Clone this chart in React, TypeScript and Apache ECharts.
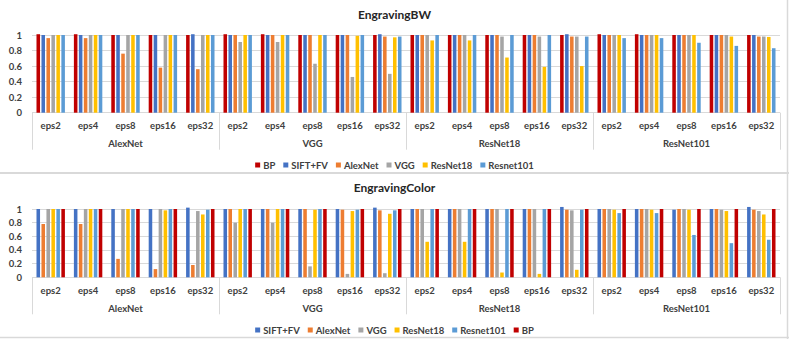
import React, { useEffect, useRef } from "react";
import * as echarts from "echarts";

const epsLabels = ["eps2", "eps4", "eps8", "eps16", "eps32"];
const groups = ["AlexNet", "VGG", "ResNet18", "ResNet101"];
const yTicks = [0, 0.2, 0.4, 0.6, 0.8, 1];

const seriesNames = ["BP", "SIFT+FV", "AlexNet", "VGG", "ResNet18", "Resnet101"];
const colorOrder = ["SIFT+FV", "AlexNet", "VGG", "ResNet18", "Resnet101", "BP"];

// EngravingBW (order per group: eps2, eps4, eps8, eps16, eps32)
const bwBP = [1.01, 1.01, 1, 1, 1, 1.01, 1.01, 1, 1, 1, 1, 1, 1, 1, 1, 1.01, 1.01, 1, 1, 1];
const bwSIFT = [1, 1, 1, 1, 1.01, 1, 1, 1, 1, 1.01, 1, 1, 1, 1, 1.01, 1, 1, 1, 1, 1];
const bwAlexNet = [0.96, 0.96, 0.76, 0.58, 0.56, 1, 1, 1, 1, 0.98, 1, 1, 1, 1, 0.98, 1, 1, 1, 1, 0.98];
const bwVGG = [1, 1, 1, 1, 1, 0.91, 0.91, 0.63, 0.46, 0.5, 1, 1, 0.98, 0.98, 0.98, 1, 1, 1, 1, 0.98];
const bwResNet18 = [1, 1, 1, 1, 1, 1, 1, 1, 0.99, 0.97, 0.93, 0.93, 0.71, 0.59, 0.6, 1, 1, 1, 0.98, 0.975];
const bwResnet101 = [1, 1, 1, 1, 1, 1, 1, 1, 1, 0.98, 1, 1, 1, 1, 0.98, 0.96, 0.96, 0.9, 0.86, 0.83];

// EngravingColor
const colSIFT = [1, 1, 1, 1, 1.02, 1, 1, 1, 1, 1.02, 1, 1, 1, 1, 1.03, 1, 1, 0.99, 1, 1.03];
const colAlexNet = [0.78, 0.78, 0.27, 0.12, 0.18, 1, 1, 1, 0.99, 0.98, 1, 1, 1, 1, 0.99, 1, 1, 1, 1, 0.99];
const colVGG = [1, 1, 1, 1, 0.97, 0.8, 0.8, 0.16, 0.05, 0.06, 1, 1, 1, 1, 0.98, 1, 1, 1, 0.99, 0.97];
const colResNet18 = [1, 1, 1, 0.98, 0.92, 1, 1, 0.99, 0.97, 0.93, 0.52, 0.52, 0.07, 0.05, 0.11, 0.99, 0.99, 0.99, 0.97, 0.92];
const colResnet101 = [1, 1, 1, 1, 0.99, 1, 1, 1, 0.99, 0.98, 1, 1, 1, 1, 0.99, 0.94, 0.94, 0.62, 0.5, 0.55];
const colBP = [1, 1, 1, 1, 1, 1, 1, 1, 1, 1, 1, 1, 1, 1, 1, 1, 1, 1, 1, 1];

const COLORS: Record<string, string> = {
  BP: "#C00000",
  "SIFT+FV": "#4472C4",
  AlexNet: "#ED7D31",
  VGG: "#A5A5A5",
  ResNet18: "#FFC000",
  Resnet101: "#5B9BD5",
};

const FONT = "Lato";
const TXT = "#404040";

export default function App() {
  const ref = useRef<HTMLDivElement>(null);
  useEffect(() => {
    if (!ref.current) return;
    const chart = echarts.init(ref.current, null, { renderer: "svg" });
    const categories = groups.flatMap(() => epsLabels);

    const bwData: Record<string, number[]> = {
      BP: bwBP,
      "SIFT+FV": bwSIFT,
      AlexNet: bwAlexNet,
      VGG: bwVGG,
      ResNet18: bwResNet18,
      Resnet101: bwResnet101,
    };
    const colData: Record<string, number[]> = {
      "SIFT+FV": colSIFT,
      AlexNet: colAlexNet,
      VGG: colVGG,
      ResNet18: colResNet18,
      Resnet101: colResnet101,
      BP: colBP,
    };

    const labelStyle = { fontFamily: FONT, fontSize: 9.5, fontWeight: "bold" as const, color: TXT };

    const xAxes: any[] = [];
    const yAxes: any[] = [];
    [0, 1].forEach((gi) => {
      xAxes.push({
        type: "category",
        gridIndex: gi,
        data: categories,
        axisLine: { show: false },
        axisTick: { show: false },
        axisLabel: { ...labelStyle, interval: 0, margin: 8 },
      });
      xAxes.push({
        type: "category",
        gridIndex: gi,
        data: groups,
        position: "bottom",
        axisLine: { show: false },
        axisTick: { show: true, length: 37, interval: 0, lineStyle: { color: "#d9d9d9", width: 1 } },
        axisLabel: { ...labelStyle, interval: 0, margin: 26 },
      });
      yAxes.push({
        type: "value",
        gridIndex: gi,
        min: 0,
        max: 1,
        interval: 0.2,
        axisLine: { show: false },
        axisTick: { show: false },
        splitLine: { lineStyle: { color: "#d9d9d9", width: 1 } },
        axisLabel: {
          ...labelStyle,
          margin: 10,
          formatter: (v: number) => {
            const t = yTicks.find((x) => Math.abs(x - v) < 1e-6);
            return t === undefined ? "" : String(Number(t.toFixed(1)));
          },
        },
      });
    });

    const mkSeries = (names: string[], data: Record<string, number[]>, gi: number) =>
      names.map((n) => ({
        type: "bar",
        name: n,
        xAxisIndex: gi * 2,
        yAxisIndex: gi,
        data: data[n],
        itemStyle: { color: COLORS[n] },
        barGap: "40%",
        barCategoryGap: "24%",
        clip: false,
      }));

    const legendBase = {
      left: "center",
      itemWidth: 5,
      itemHeight: 5,
      itemGap: 8,
      icon: "rect",
      textStyle: { ...labelStyle, padding: [0, 0, 0, -2] },
      selectedMode: false,
    };

    chart.setOption({
      animation: false,
      backgroundColor: "#ffffff",
      title: [
        {
          text: "EngravingBW",
          left: "center",
          top: 8,
          padding: 0,
          textStyle: { fontFamily: FONT, fontSize: 12, fontWeight: "bold", color: "#262626" },
        },
        {
          text: "EngravingColor",
          left: "center",
          top: 181,
          padding: 0,
          textStyle: { fontFamily: FONT, fontSize: 12, fontWeight: "bold", color: "#262626" },
        },
      ],
      legend: [
        { ...legendBase, data: seriesNames, top: 155 },
        { ...legendBase, data: colorOrder, top: 320 },
      ],
      grid: [
        { left: 32, right: 9, top: 35, height: 77.7 },
        { left: 32, right: 9, top: 209, height: 68.3 },
      ],
      xAxis: xAxes,
      yAxis: yAxes,
      series: [...mkSeries(seriesNames, bwData, 0), ...mkSeries(colorOrder, colData, 1)],
      graphic: [
        { type: "line", shape: { x1: 0, y1: 173, x2: 789, y2: 173 }, style: { stroke: "#d9d9d9", lineWidth: 2 } },
        { type: "line", shape: { x1: 787.5, y1: 0, x2: 787.5, y2: 339 }, style: { stroke: "#d9d9d9", lineWidth: 1.5 } },
        { type: "line", shape: { x1: 0, y1: 337.5, x2: 789, y2: 337.5 }, style: { stroke: "#d9d9d9", lineWidth: 1.5 } },
      ],
    });
    return () => chart.dispose();
  }, []);
  return (
    <div
      ref={ref}
      style={{ position: "fixed", left: 0, top: 0, width: 789, height: 339, background: "#fff" }}
    />
  );
}
